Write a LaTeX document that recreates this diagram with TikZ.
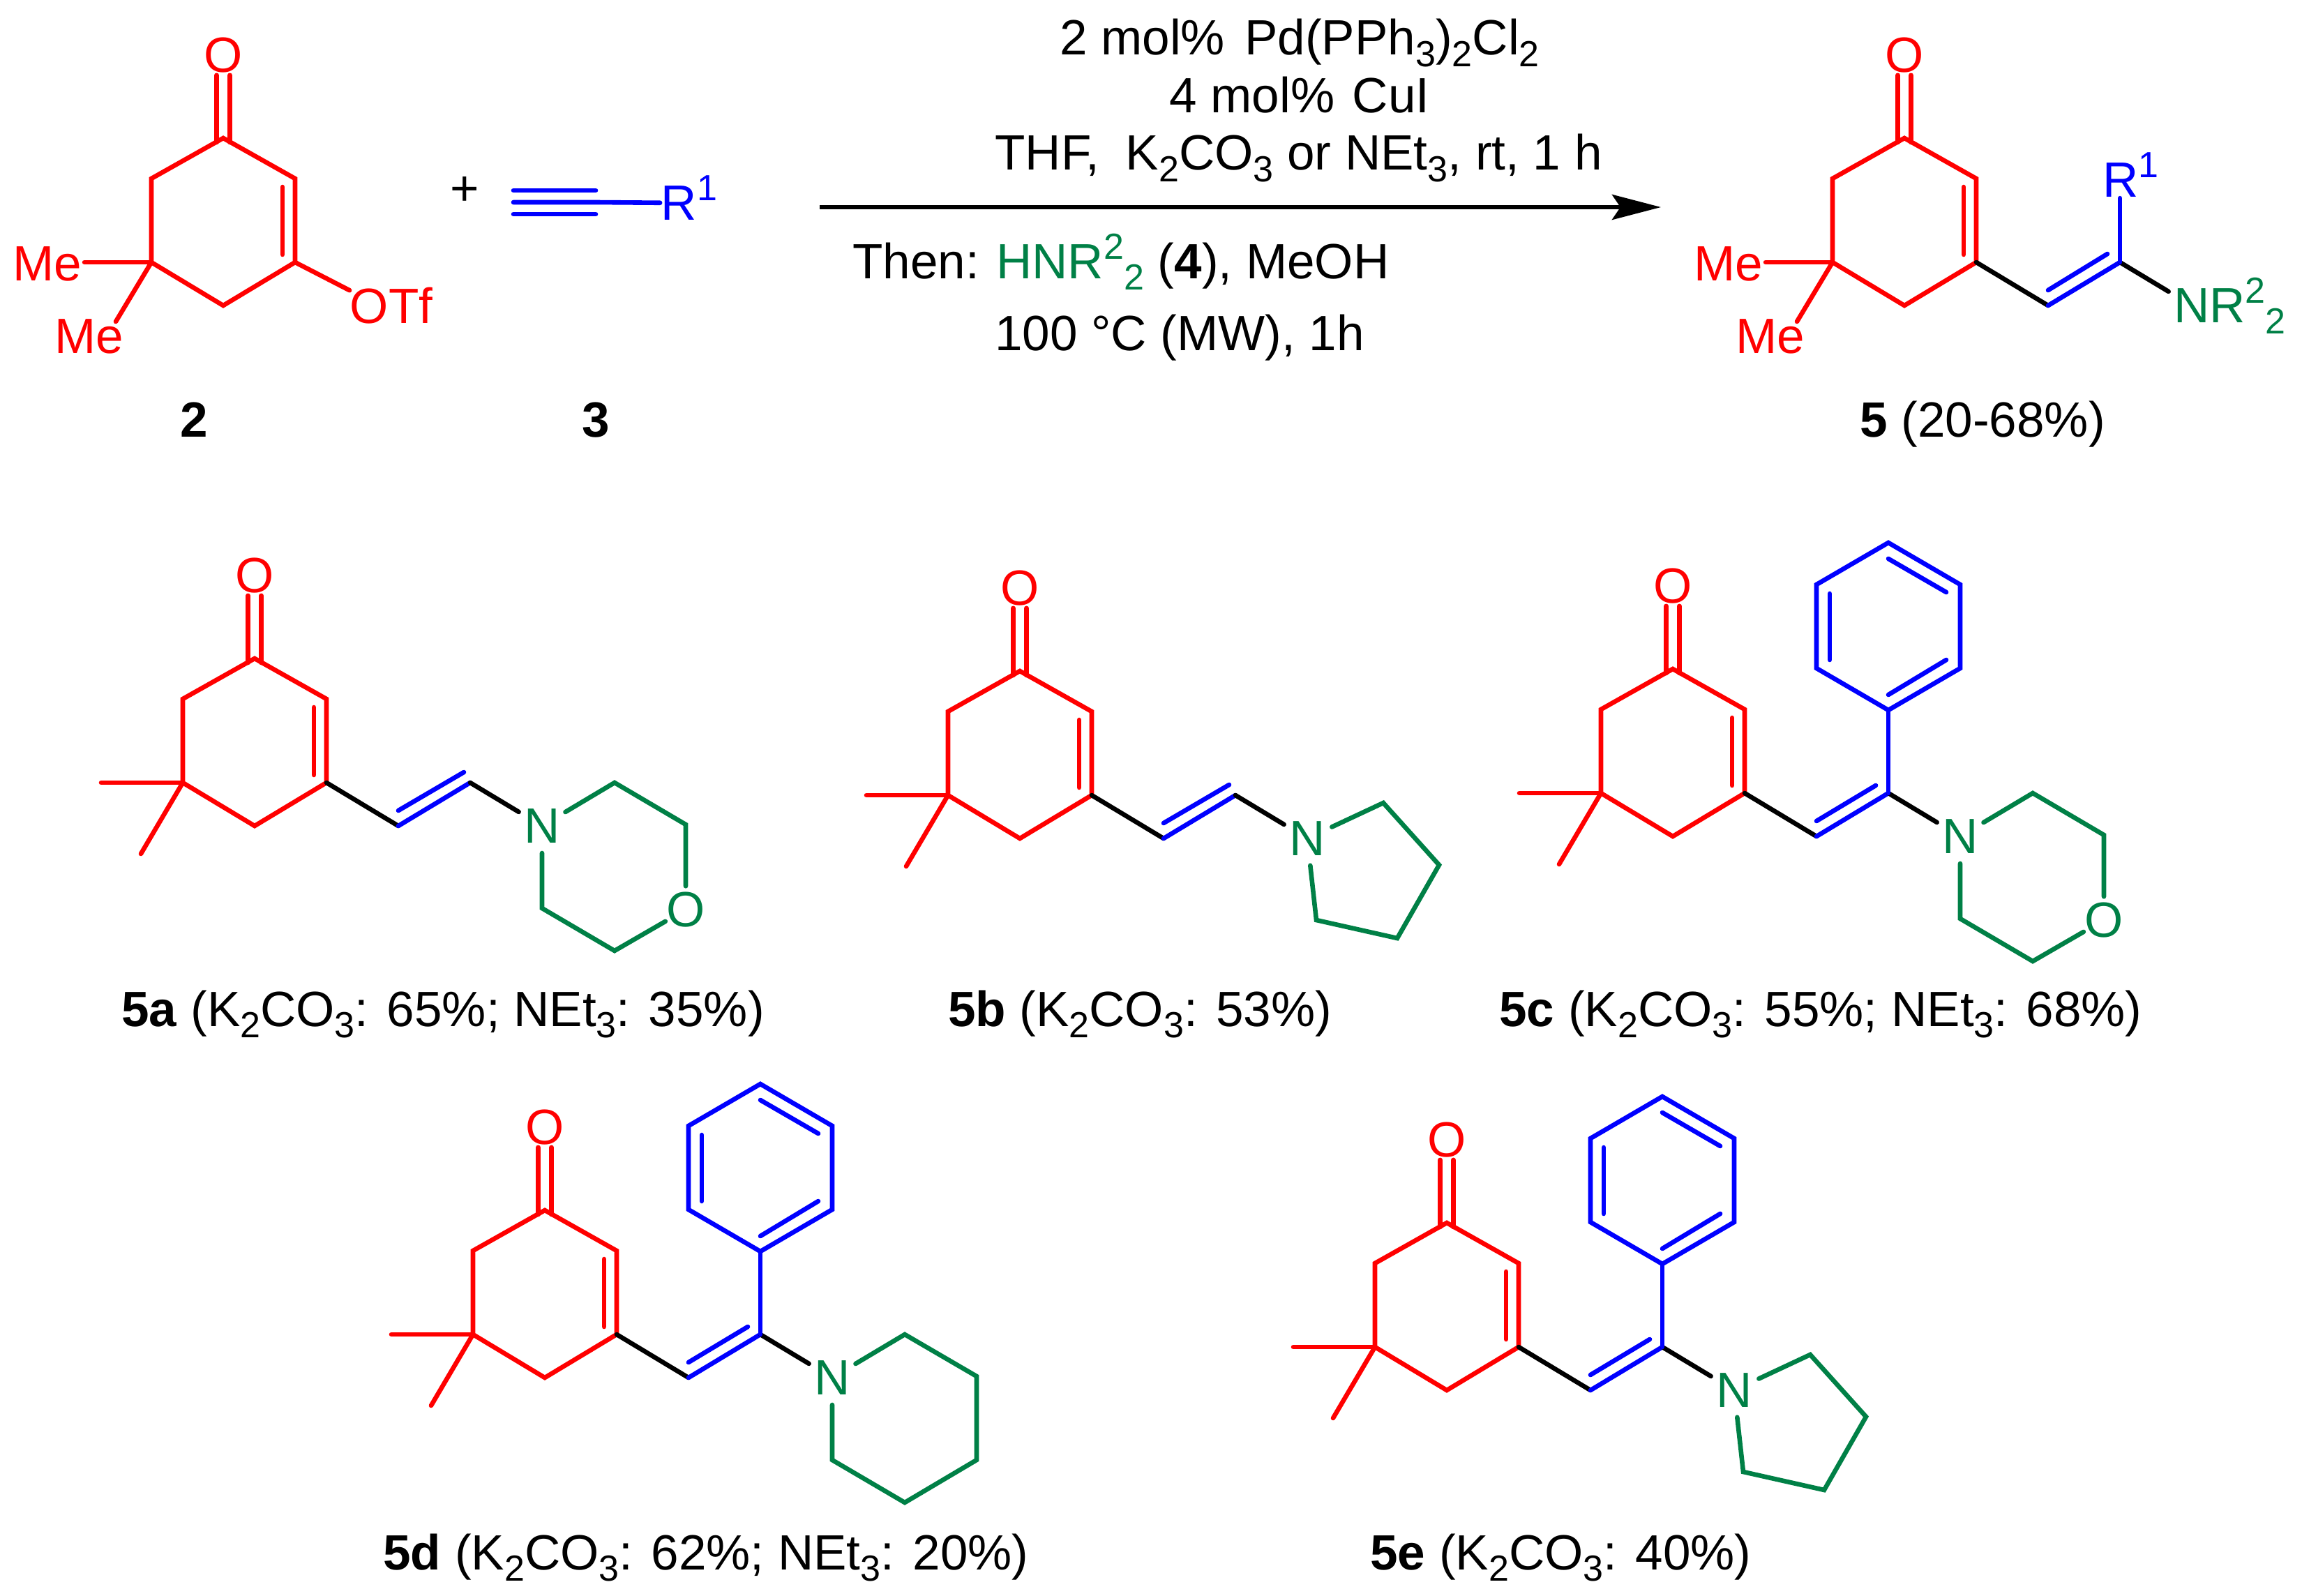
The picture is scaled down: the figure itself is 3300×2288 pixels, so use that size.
\documentclass[tikz,border=0pt]{standalone}
\usepackage{fontspec}
\setmainfont{Liberation Sans}
\usepackage{xcolor}
\definecolor{ringred}{RGB}{255,0,0}
\definecolor{armblue}{RGB}{0,0,255}
\definecolor{aminegreen}{RGB}{0,128,70}
\usetikzlibrary{calc}
\usetikzlibrary{arrows.meta}
\newcommand{\subnum}[1]{\raisebox{-0.23em}{\fontsize{14.8}{16}\selectfont #1}}
\newcommand{\supnum}[1]{\raisebox{0.39em}{\fontsize{14.8}{16}\selectfont #1}}
\newcommand{\enonecore}{
  \coordinate (top) at (0,0);
  \coordinate (ur) at (103,58);
  \coordinate (lr) at (103,178);
  \coordinate (bot) at (0,240);
  \coordinate (ll) at (-103,178);
  \coordinate (ul) at (-103,58);
  \coordinate (in1) at (85,70);
  \coordinate (in2) at (85,167);
  \coordinate (co1) at (-9.5,6);
  \coordinate (co2) at (9.5,6);
  \node[red atom] (oxo) at (0,-119) {O};
  \draw[red bond] (top) -- (ur) -- (lr) -- (bot) -- (ll) -- (ul) -- cycle;
  \draw[red bond] (in1) -- (in2);
  \draw[red bond] (co1) -- (co1 |- oxo.south);
  \draw[red bond] (co2) -- (co2 |- oxo.south);
}
\newcommand{\dimethyl}{
  \coordinate (me1) at (-220,178);
  \coordinate (me2) at (-163,280);
  \draw[red bond] (ll) -- (me1);
  \draw[red bond] (ll) -- (me2);
}
\newcommand{\dimethyllabels}{
  \node[red atom] (mea) at (-252,180) {Me};
  \node[red atom] (meb) at (-192,284) {Me};
  \coordinate (mebend) at (-154,263);
  \draw[red bond] (ll) -- (mea.east |- ll);
  \draw[red bond] (ll) -- (mebend);
}
\newcommand{\vinylarm}[1]{
  \coordinate (v1) at (206,240);
  \coordinate (v2) at (309,178);
  \coordinate (vin1) at (206,218);
  \coordinate (vin2) at (#1);
  \draw[black bond] (lr) -- (v1);
  \draw[blue bond] (v1) -- (v2);
  \draw[blue bond] (vin1) -- (vin2);
  \draw[black bond] (v2) -- (nitro);
}
\newcommand{\phenylarm}{
  \coordinate (pb) at (309,59);
  \coordinate (pr1) at (412,-1);
  \coordinate (pr2) at (412,-121);
  \coordinate (pt) at (309,-181);
  \coordinate (pl2) at (206,-121);
  \coordinate (pl1) at (206,-1);
  \coordinate (pa1) at (225,-108);
  \coordinate (pa2) at (225,-13);
  \coordinate (pb1) at (309,-158);
  \coordinate (pb2) at (392,-110);
  \coordinate (pc1) at (309,37);
  \coordinate (pc2) at (392,-13);
  \draw[blue bond] (v2) -- (pb);
  \draw[blue bond] (pb) -- (pr1) -- (pr2) -- (pt) -- (pl2) -- (pl1) -- cycle;
  \draw[blue bond] (pa1) -- (pa2);
  \draw[blue bond] (pb1) -- (pb2);
  \draw[blue bond] (pc1) -- (pc2);
}
\newcommand{\morpholine}{
  \node[green atom,inner sep=-0.03cm] (oxa) at (618,360) {O};
  \coordinate (m1) at (516,178);
  \coordinate (m2) at (618,238);
  \coordinate (m3) at (516,419);
  \coordinate (m4) at (412,358);
  \draw[green bond] (nitro) -- (m1) -- (m2) -- (oxa);
  \draw[green bond] (oxa) -- (m3) -- (m4) -- (nitro);
}
\newcommand{\pyrrolidine}{
  \coordinate (m1) at (521,189);
  \coordinate (m2) at (601,278);
  \coordinate (m3) at (541,383);
  \coordinate (m4) at (425,357);
  \draw[green bond] (nitro) -- (m1) -- (m2) -- (m3) -- (m4) -- (nitro);
}
\newcommand{\piperidine}{
  \coordinate (m1) at (516,178);
  \coordinate (m2) at (619,238);
  \coordinate (m3) at (619,358);
  \coordinate (m4) at (516,419);
  \coordinate (m5) at (412,358);
  \draw[green bond] (nitro) -- (m1) -- (m2) -- (m3) -- (m4) -- (m5) -- (nitro);
}
\begin{document}
\begin{tikzpicture}[x=0.01cm,y=-0.01cm,font=\fontsize{20.2}{24}\selectfont,
      red bond/.style={ringred,line width=0.066cm,line cap=round,line join=miter},
      blue bond/.style={armblue,line width=0.066cm,line cap=round,line join=miter},
      green bond/.style={aminegreen,line width=0.066cm,line cap=round,line join=miter},
      black bond/.style={black,line width=0.066cm,line cap=round,line join=miter},
      red atom/.style={text=ringred,inner sep=0.03cm},
      blue atom/.style={text=armblue,inner sep=0.03cm},
      green atom/.style={circle,text=aminegreen,inner sep=0.02cm},
      caption text/.style={anchor=base,inner sep=0pt}
      ]
      \useasboundingbox (0,0) rectangle (3300,2288);

      \begin{scope}[shift={(320,198)},name prefix=sm-]
        \enonecore
        \dimethyllabels
        \node[red atom,inner sep=0pt] (otf) at (241,240) {OTf};
        \draw[red bond] (lr) -- (otf.160);
      \end{scope}
      \node[caption text] (labelsm) at (278,626) {\textbf{2}};

      \node (plus) at (666,274) {+};
      \coordinate (yne1) at (736,290);
      \coordinate (yne1a) at (736,273);
      \coordinate (yne1b) at (736,307);
      \coordinate (yne2) at (854,290);
      \coordinate (yne2a) at (854,273);
      \coordinate (yne2b) at (854,307);
      \node[blue atom,inner sep=0.01cm] (rone) at (973.5,291) {R\smash{\rlap{\supnum{1}}}};
      \draw[blue bond] (yne1) -- (yne2) -- (rone);
      \draw[blue bond] (yne1a) -- (yne2a);
      \draw[blue bond] (yne1b) -- (yne2b);
      \node[caption text] (labelyne) at (854,626) {\textbf{3}};

      \coordinate (arrowstart) at (1175,297);
      \coordinate (arrowend) at (2381,297);
      \draw[-{Stealth[length=0.7cm,width=0.36cm,inset=0.12cm]},line width=0.06cm] (arrowstart) -- (arrowend);
      \node[caption text] (cond1) at (1863,79) {2 mol\%\hspace{0.12em} Pd(PPh\subnum{3})\subnum{2}Cl\subnum{2}};
      \node[caption text] (cond2) at (1863,162) {4 mol\%\hspace{0.08em} CuI};
      \node[caption text] (cond3) at (1861.5,244) {THF,\hspace{0.25em} K\subnum{2}CO\subnum{3} or NEt\subnum{3}, rt, 1 h};
      \node[caption text] (cond4) at (1607,399) {Then:\hspace{-0.03em} \textcolor{aminegreen}{HNR\supnum{2}\subnum{2}} (\textbf{4}), MeOH};
      \node[caption text] (cond5) at (1691,502) {100 °C (MW), 1h};

      \begin{scope}[shift={(2730,198)},name prefix=pr-]
        \enonecore
        \dimethyllabels
        \node[green atom] (nitro) at (412,240) {N\smash{\rlap{R\supnum{2}\subnum{2}}}};
        \node[blue atom,inner sep=0.01cm] (rone) at (310,60) {R\smash{\rlap{\supnum{1}}}};
        \vinylarm{291,166}
        \draw[blue bond] (v2) -- (v2 |- rone.south);
      \end{scope}
      \node[caption text] (labelpr) at (2842,626) {\textbf{5} (20-68\%)};

      \begin{scope}[shift={(365,944)},name prefix=a-]
        \enonecore
        \dimethyl
        \node[green atom] (nitro) at (412,240) {N};
        \vinylarm{300,163}
        \morpholine
      \end{scope}
      \node[caption text] (labela) at (635,1471) {\textbf{5a} (K\subnum{2}CO\subnum{3}: 65\%; NEt\subnum{3}: 35\%)};

      \begin{scope}[shift={(1462,962)},name prefix=b-]
        \enonecore
        \dimethyl
        \node[green atom] (nitro) at (412,240) {N};
        \vinylarm{300,163}
        \pyrrolidine
      \end{scope}
      \node[caption text] (labelb) at (1634,1471) {\textbf{5b} (K\subnum{2}CO\subnum{3}: 53\%)};

      \begin{scope}[shift={(2398,959)},name prefix=c-]
        \enonecore
        \dimethyl
        \node[green atom] (nitro) at (412,240) {N};
        \vinylarm{291,167}
        \phenylarm
        \morpholine
      \end{scope}
      \node[caption text] (labelc) at (2610,1471) {\textbf{5c} (K\subnum{2}CO\subnum{3}: 55\%; NEt\subnum{3}: 68\%)};

      \begin{scope}[shift={(781,1735)},name prefix=d-]
        \enonecore
        \dimethyl
        \node[green atom] (nitro) at (412,240) {N};
        \vinylarm{291,167}
        \phenylarm
        \piperidine
      \end{scope}
      \node[caption text] (labeld) at (1012,2250) {\textbf{5d} (K\subnum{2}CO\subnum{3}: 62\%; NEt\subnum{3}: 20\%)};

      \begin{scope}[shift={(2074,1753)},name prefix=e-]
        \enonecore
        \dimethyl
        \node[green atom] (nitro) at (412,240) {N};
        \vinylarm{291,167}
        \phenylarm
        \pyrrolidine
      \end{scope}
      \node[caption text] (labele) at (2237.5,2250) {\textbf{5e} (K\subnum{2}CO\subnum{3}: 40\%)};
    \end{tikzpicture}
\end{document}
